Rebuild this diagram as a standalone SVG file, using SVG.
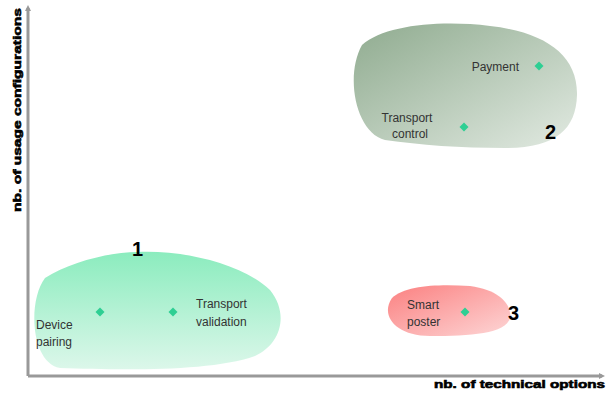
<svg xmlns="http://www.w3.org/2000/svg" width="607" height="399" viewBox="0 0 607 399">
<style>
.lbl{font-family:"Liberation Sans",Arial,sans-serif;font-size:12px;fill:#333}
.num{font-family:"Liberation Sans",Arial,sans-serif;font-size:20px;font-weight:bold;fill:#000}
.ax{font-family:"Liberation Sans",Arial,sans-serif;font-size:11px;font-weight:900;fill:#000;stroke:#000;stroke-width:0.6}
.axis{stroke:#999;stroke-width:3;fill:none}
.dot{fill:#2ecf93}
</style>
<defs>
<linearGradient id="g2" x1="0" y1="0" x2="1" y2="1"><stop offset="0" stop-color="#8fab8f"/><stop offset="1" stop-color="#e2eae2"/></linearGradient>
<linearGradient id="g1" x1="0" y1="0" x2="0" y2="1"><stop offset="0" stop-color="#8becbe"/><stop offset="1" stop-color="#dcf7ea"/></linearGradient>
<linearGradient id="g3" x1="0" y1="0" x2="1" y2="1"><stop offset="0" stop-color="#fb8080"/><stop offset="1" stop-color="#fdd6d6"/></linearGradient>
<marker id="ah" markerWidth="6" markerHeight="6" refX="3" refY="3" orient="auto" markerUnits="userSpaceOnUse"><path d="M0,0 L6,3 L0,6 z" fill="#999"/></marker>
<path id="dm" d="M0,-4.5 L4.5,0 L0,4.5 L-4.5,0 z"/>
</defs>
<g id="axes">
<path class="axis" d="M28,376 L28,8" marker-end="url(#ah)"/>
<path class="axis" d="M28,376 L602,376" marker-end="url(#ah)"/>
<text class="ax" transform="translate(21,110) rotate(-90)" text-anchor="middle" textLength="204" lengthAdjust="spacingAndGlyphs">nb. of usage configurations</text>
<text class="ax" x="605" y="388" text-anchor="end" textLength="171" lengthAdjust="spacingAndGlyphs">nb. of technical options</text>
</g>
<g id="cluster2">
<path d="M362,45 C385,25 440,20 490,26 C545,32 578,55 577,95 C576,130 555,148 505,148 C460,148 420,145 385,140 C355,132 345,75 362,45 z" fill="url(#g2)"/>
<use href="#dm" x="539" y="66" class="dot"/>
<use href="#dm" x="464" y="127" class="dot"/>
<text class="lbl" x="519" y="71" text-anchor="end">Payment</text>
<text class="lbl" x="407" y="122" text-anchor="middle">Transport</text>
<text class="lbl" x="410" y="138" text-anchor="middle">control</text>
<text class="num" x="545" y="139">2</text>
</g>
<g id="cluster1">
<path d="M45,278 C70,262 110,252 138,252 C180,250 240,262 270,290 C290,315 280,345 255,356 C210,372 120,370 60,368 C30,362 28,300 45,278 z" fill="url(#g1)"/>
<use href="#dm" x="100" y="312" class="dot"/>
<use href="#dm" x="173" y="312" class="dot"/>
<text class="lbl" x="36" y="329">Device</text>
<text class="lbl" x="36" y="346">pairing</text>
<text class="lbl" x="196" y="308">Transport</text>
<text class="lbl" x="196" y="326">validation</text>
<text class="num" x="132" y="256">1</text>
</g>
<g id="cluster3">
<path d="M392,298 C405,285 440,284 470,286 C500,290 512,305 510,318 C506,334 470,336 430,336 C395,336 380,315 392,298 z" fill="url(#g3)"/>
<use href="#dm" x="465" y="312" class="dot"/>
<text class="lbl" x="407" y="309">Smart</text>
<text class="lbl" x="407" y="326">poster</text>
<text class="num" x="508" y="320">3</text>
</g>
</svg>
